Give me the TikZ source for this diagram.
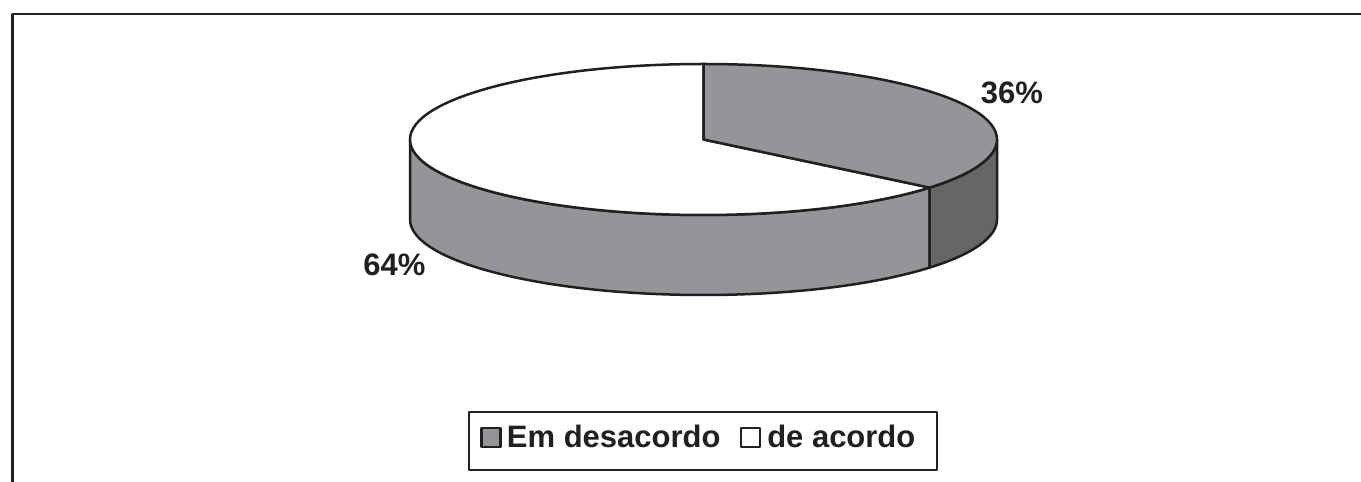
\documentclass[tikz,border=0pt]{standalone}
\usepackage{fontspec}
\setmainfont{Liberation Sans}
\usetikzlibrary{positioning}
\definecolor{inkblack}{RGB}{35,31,32}
\definecolor{slicegray}{RGB}{147,149,152}
\definecolor{sidedark}{RGB}{102,102,104}

\begin{document}
\begin{tikzpicture}[x=1pt,y=1pt,line join=round,line width=2.5pt,draw=inkblack,
    pct/.style={font=\bfseries\fontsize{31}{31}\selectfont,text=inkblack,inner sep=0pt,anchor=base},
    legtext/.style={font=\bfseries\fontsize{31}{31}\selectfont,text=inkblack,inner sep=0pt,anchor=base west},
    swatch/.style={draw=inkblack,line width=2.5pt,minimum size=19pt,inner sep=0pt},
    legendbox/.style={draw=inkblack,line width=2.5pt,minimum width=468pt,minimum height=58pt}]
\useasboundingbox (0,0) rectangle (1361,482);
\draw[inkblack,line width=2.7pt] (12.5,0) -- (12.5,468) -- (1361,468);
\coordinate (ctop) at (703.5,342.5);
\coordinate (cbot) at (703.5,262.5);
% side walls
\draw[fill=slicegray] ([shift={(180:293.5pt and 75.5pt)}]ctop) arc[start angle=180,end angle=320.4,x radius=293.5pt,y radius=75.5pt]
    -- ([shift={(320.4:293.5pt and 75.5pt)}]cbot) arc[start angle=320.4,end angle=180,x radius=293.5pt,y radius=75.5pt] -- cycle;
\draw[fill=sidedark] ([shift={(320.4:293.5pt and 75.5pt)}]ctop) arc[start angle=320.4,end angle=360,x radius=293.5pt,y radius=75.5pt]
    -- ([shift={(0:293.5pt and 75.5pt)}]cbot) arc[start angle=360,end angle=320.4,x radius=293.5pt,y radius=75.5pt] -- cycle;
% top faces
\draw[fill=white] (ctop) -- ([shift={(90:293.5pt and 75.5pt)}]ctop) arc[start angle=90,end angle=320.4,x radius=293.5pt,y radius=75.5pt] -- cycle;
\draw[fill=slicegray] (ctop) -- ([shift={(90:293.5pt and 75.5pt)}]ctop) arc[start angle=90,end angle=-39.6,x radius=293.5pt,y radius=75.5pt] -- cycle;
\node[pct] (lbl_1) at (1012,378.7) {36\%};
\node[pct] (lbl_2) at (394.5,206.3) {64\%};
% legend
\node[legendbox] (legend) at (703,41) {};
\node[swatch,fill=slicegray] (sw_1) at (491,44.5) {};
\node[legtext] (txt_1) at (505.7,34) {Em desacordo};
\node[swatch,fill=white] (sw_2) at (750.5,44.5) {};
\node[legtext] (txt_2) at (766,34) {de acordo};
\end{tikzpicture}
\end{document}
